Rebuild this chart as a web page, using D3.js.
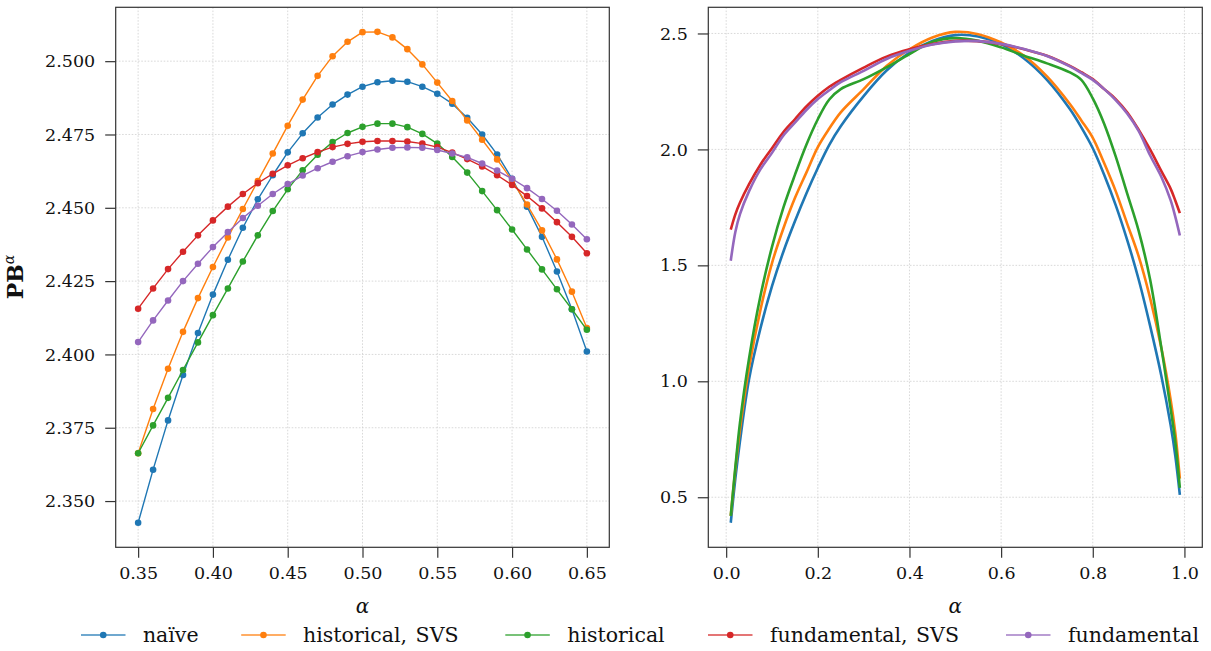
<!DOCTYPE html>
<html><head><meta charset="utf-8">
<script src="https://cdn.jsdelivr.net/npm/d3@7"></script>
<style>
body{margin:0;background:#fff;}
svg{display:block;font-family:"DejaVu Serif",serif;}
</style></head><body>
<svg id="chart" width="1211" height="651"></svg>
<script>
// ---------- data: left panel (zoomed, markers) ----------
const alphaZoom = [0.35,0.36,0.37,0.38,0.39,0.40,0.41,0.42,0.43,0.44,0.45,0.46,0.47,0.48,0.49,0.50,
                   0.51,0.52,0.53,0.54,0.55,0.56,0.57,0.58,0.59,0.60,0.61,0.62,0.63,0.64,0.65];
const naiveZoom = [2.3426,2.3607,2.3775,2.3930,2.4073,2.4204,2.4323,2.4432,2.4529,2.4611,2.4689,2.4754,2.4808,2.4852,2.4886,2.4913,
                   2.4928,2.4933,2.4930,2.4913,2.4889,2.4855,2.4807,2.4750,2.4682,2.4599,2.4504,2.4401,2.4283,2.4154,2.4010];
const histSvsZoom = [2.3663,2.3814,2.3951,2.4077,2.4192,2.4298,2.4399,2.4496,2.4591,2.4685,2.4780,2.4869,2.4950,2.5017,2.5066,2.5099,
                   2.5100,2.5081,2.5041,2.4989,2.4927,2.4864,2.4798,2.4732,2.4665,2.4593,2.4511,2.4423,2.4324,2.4214,2.4090];
const histZoom = [2.3663,2.3758,2.3852,2.3947,2.4041,2.4134,2.4225,2.4317,2.4406,2.4489,2.4563,2.4628,2.4681,2.4724,2.4755,2.4776,
                   2.4787,2.4787,2.4775,2.4752,2.4719,2.4673,2.4620,2.4557,2.4492,2.4426,2.4358,2.4290,2.4222,2.4154,2.4084];
const fundSvsZoom = [2.4156,2.4225,2.4291,2.4350,2.4406,2.4457,2.4504,2.4547,2.4584,2.4616,2.4645,2.4669,2.4690,2.4707,2.4718,2.4725,
                   2.4728,2.4728,2.4726,2.4719,2.4707,2.4688,2.4666,2.4641,2.4611,2.4578,2.4540,2.4498,2.4451,2.4401,2.4345];
const fundZoom = [2.4042,2.4116,2.4184,2.4250,2.4309,2.4366,2.4417,2.4465,2.4507,2.4547,2.4581,2.4610,2.4635,2.4657,2.4676,2.4690,
                   2.4699,2.4705,2.4706,2.4705,2.4697,2.4685,2.4672,2.4651,2.4627,2.4599,2.4567,2.4530,2.4490,2.4443,2.4393];

// ---------- data: right panel (full range, lines) ----------
const alphaFull = [0.01,0.02,0.03,0.05,0.075,0.10,0.125,0.15,0.175,0.20,0.225,0.25,0.30,0.35,0.40,0.45,0.50,
                   0.55,0.60,0.65,0.70,0.75,0.775,0.80,0.825,0.85,0.875,0.90,0.925,0.95,0.97,0.98,0.99];
const naiveFull = [0.39,0.58,0.74,1.01,1.23,1.41,1.56,1.69,1.81,1.92,2.02,2.10,2.23,2.34,2.418,2.468,2.493,
                   2.487,2.454,2.392,2.300,2.174,2.095,2.005,1.89,1.76,1.61,1.44,1.24,1.02,0.81,0.68,0.51];
const histSvsFull = [0.42,0.62,0.79,1.06,1.31,1.51,1.66,1.79,1.90,2.01,2.09,2.16,2.26,2.36,2.432,2.483,2.507,
                   2.497,2.461,2.404,2.315,2.196,2.125,2.05,1.94,1.82,1.68,1.54,1.36,1.14,0.92,0.78,0.58];
const histFull = [0.42,0.63,0.82,1.10,1.37,1.58,1.75,1.89,2.02,2.13,2.215,2.26,2.303,2.354,2.411,2.464,2.480,
                   2.468,2.440,2.404,2.371,2.332,2.30,2.22,2.11,1.97,1.81,1.65,1.44,1.14,0.88,0.74,0.54];
const fundSvsFull = [1.654,1.72,1.77,1.85,1.935,2.005,2.075,2.13,2.185,2.231,2.27,2.30,2.353,2.40,2.432,2.454,2.468,
                   2.467,2.454,2.432,2.404,2.360,2.333,2.303,2.26,2.217,2.16,2.085,2.00,1.905,1.83,1.78,1.725];
const fundFull = [1.52,1.644,1.72,1.82,1.915,1.985,2.06,2.115,2.17,2.217,2.255,2.29,2.339,2.39,2.425,2.452,2.466,
                   2.467,2.455,2.433,2.403,2.358,2.33,2.300,2.26,2.213,2.155,2.08,1.975,1.88,1.78,1.71,1.629];

const seriesNames = ["naïve","historical, SVS","historical","fundamental, SVS","fundamental"];
const seriesColors = ["#1f77b4","#ff7f0e","#2ca02c","#d62728","#9467bd"];

const leftXTicks = [0.35,0.40,0.45,0.50,0.55,0.60,0.65];
const leftYTicks = [2.350,2.375,2.400,2.425,2.450,2.475,2.500];
const rightXTicks = [0.0,0.2,0.4,0.6,0.8,1.0];
const rightYTicks = [0.5,1.0,1.5,2.0,2.5];

// ---------- drawing ----------
const svg = d3.select("#chart");
const TOP = 7.3, BOTTOM = 547.3;
const SPINE = "#333";

function padded(ext){ const r = ext[1]-ext[0]; return [ext[0]-0.05*r, ext[1]+0.05*r]; }

function panel(cfg){
  const g = svg.append("g");
  const allY = cfg.series.flat();
  const x = d3.scaleLinear().domain(padded(d3.extent(cfg.xs))).range([cfg.left, cfg.right]);
  const y = d3.scaleLinear().domain(padded(d3.extent(allY))).range([BOTTOM, TOP]);

  // grid
  const grid = g.append("g").attr("stroke","#cfcfcf").attr("stroke-width",0.8).attr("stroke-dasharray","1.6,1.6");
  grid.selectAll("line.gx").data(cfg.xTicks).join("line")
    .attr("x1",d=>x(d)).attr("x2",d=>x(d)).attr("y1",TOP).attr("y2",BOTTOM);
  grid.selectAll("line.gy").data(cfg.yTicks).join("line")
    .attr("x1",cfg.left).attr("x2",cfg.right).attr("y1",d=>y(d)).attr("y2",d=>y(d));

  // series
  const line = d3.line().x((d,i)=>x(cfg.xs[i])).y(d=>y(d)).curve(cfg.curve);
  cfg.series.forEach((vals,si)=>{
    g.append("path").datum(vals).attr("d",line).attr("fill","none")
      .attr("stroke",seriesColors[si]).attr("stroke-width",cfg.lw).attr("stroke-linejoin","round");
    if(cfg.markers){
      g.append("g").selectAll("circle").data(vals).join("circle")
        .attr("cx",(d,i)=>x(cfg.xs[i])).attr("cy",d=>y(d)).attr("r",3.3)
        .attr("fill",seriesColors[si]);
    }
  });

  // axes
  const ax = g.append("g").attr("transform",`translate(0,${BOTTOM})`)
    .call(d3.axisBottom(x).tickValues(cfg.xTicks).tickFormat(d3.format(cfg.xFmt)).tickSize(10.5).tickPadding(9));
  const ay = g.append("g").attr("transform",`translate(${cfg.left},0)`)
    .call(d3.axisLeft(y).tickValues(cfg.yTicks).tickFormat(d3.format(cfg.yFmt)).tickSize(10.5).tickPadding(10));
  [ax,ay].forEach(a=>{
    a.select(".domain").remove();
    a.selectAll(".tick line").attr("stroke",SPINE).attr("stroke-width",1.2);
    a.selectAll(".tick text").attr("fill","#111").style("font-family","'DejaVu Serif',serif").style("font-size","17.5px");
  });

  // frame
  g.append("rect").attr("x",cfg.left).attr("y",TOP).attr("width",cfg.right-cfg.left).attr("height",BOTTOM-TOP)
    .attr("fill","none").attr("stroke",SPINE).attr("stroke-width",1.2);

  // x label
  g.append("text").attr("x",(cfg.left+cfg.right)/2).attr("y",613).attr("text-anchor","middle")
    .style("font-style","italic").style("font-size","20px").attr("fill","#111").text("α");
}

panel({left:115.7,right:609.3,xs:alphaZoom,
  series:[naiveZoom,histSvsZoom,histZoom,fundSvsZoom,fundZoom],
  xTicks:leftXTicks,yTicks:leftYTicks,xFmt:".2f",yFmt:".3f",curve:d3.curveLinear,lw:1.4,markers:true});
panel({left:708.3,right:1202.3,xs:alphaFull,
  series:[naiveFull,histSvsFull,histFull,fundSvsFull,fundFull],
  xTicks:rightXTicks,yTicks:rightYTicks,xFmt:".1f",yFmt:".1f",curve:d3.curveCatmullRom.alpha(0.5),lw:2.6,markers:false});

// y label
const yl = svg.append("text").attr("transform","translate(23,277) rotate(-90)").attr("text-anchor","middle")
  .attr("fill","#111").style("font-size","22px");
yl.append("tspan").style("font-weight","bold").text("PB");
yl.append("tspan").attr("dy","-9").style("font-size","14px").style("font-style","italic").text("α");

// legend
const legStart = [81,241.2,505.3,708,1006];
const LEG_Y = 635;
const leg = svg.append("g");
seriesNames.forEach((name,i)=>{
  const x0 = legStart[i];
  leg.append("line").attr("x1",x0).attr("x2",x0+44.5).attr("y1",LEG_Y).attr("y2",LEG_Y)
    .attr("stroke",seriesColors[i]).attr("stroke-width",1.6).attr("opacity",0.85);
  leg.append("circle").attr("cx",x0+22.25).attr("cy",LEG_Y).attr("r",3.3).attr("fill",seriesColors[i]);
  leg.append("text").attr("x",x0+61.9).attr("y",LEG_Y).attr("dy","0.35em").attr("fill","#111")
    .style("font-size","20.5px").style("word-spacing","2px").text(name);
});
</script>
</body></html>
